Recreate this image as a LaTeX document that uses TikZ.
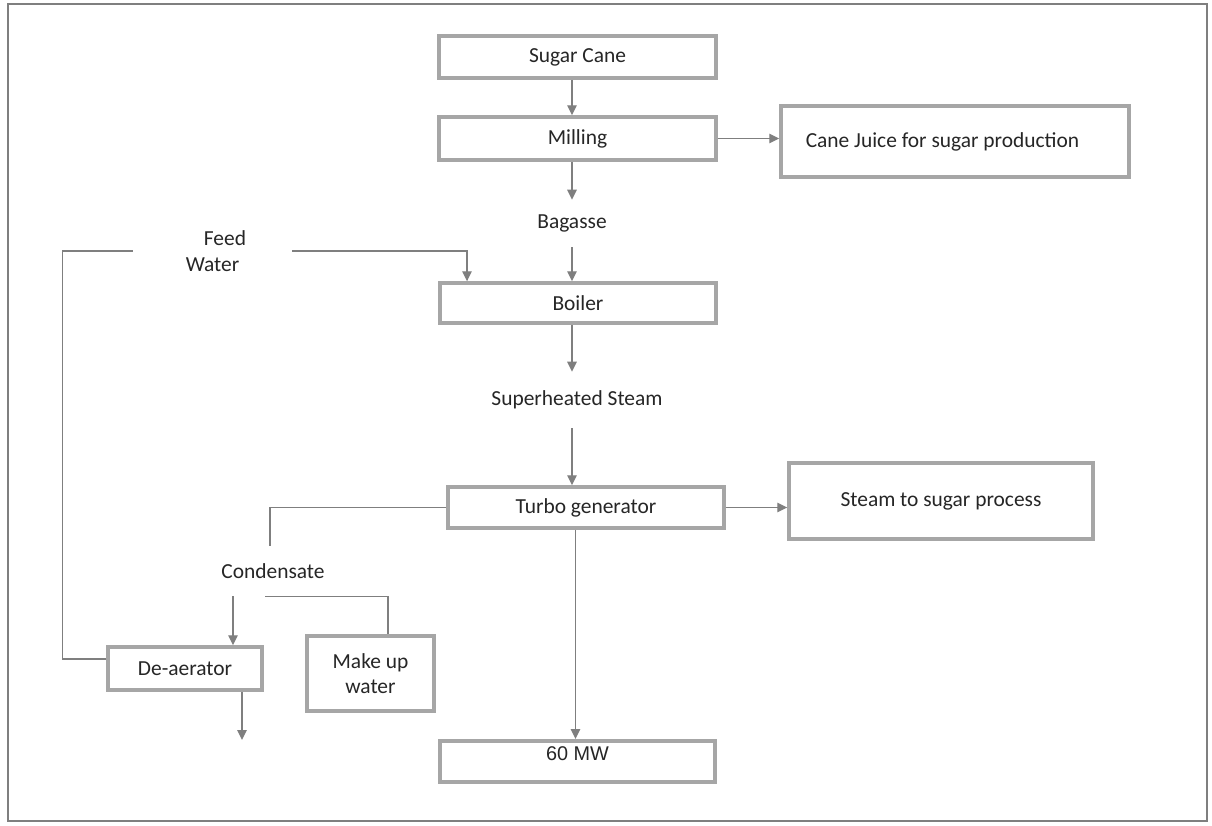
\documentclass[tikz,border=0pt]{standalone}
\usepackage{fontspec}
\setmainfont{Carlito}
\newfontfamily\arialf{Liberation Sans}
\usetikzlibrary{arrows.meta,positioning,calc}
\definecolor{boxgray}{HTML}{A6A6A6}
\definecolor{linegray}{HTML}{7F7F7F}
\definecolor{txt}{HTML}{262626}
\tikzset{
  pbox/.style={draw=boxgray,line width=2pt,fill=white,inner sep=0pt,align=center,text=txt,font=\fontsize{12.2}{14.6}\selectfont},
  lbl/.style={inner sep=0pt,text=txt,align=center,font=\fontsize{12.2}{14.6}\selectfont},
  conn/.style={draw=linegray,line width=0.75pt},
  arr/.style={conn,-{Triangle[length=2mm,width=1.9mm]}},
  frame/.style={draw=linegray,line width=1.1pt}
}
\begin{document}
\begin{tikzpicture}[x=0.02cm,y=-0.02cm]
\useasboundingbox (0,0) rectangle (1212,825);
\draw[frame] (8,4) rectangle (1207,821);

\node[pbox,minimum width=5.54cm,minimum height=0.84cm] (sugar) at (577.5,57) {Sugar Cane};
\node[pbox,minimum width=5.54cm,minimum height=0.86cm] (milling) at (577.5,138.5) {Milling};
\node[pbox,minimum width=6.96cm,minimum height=1.42cm] (juice) at (955,141.5) {\hspace*{-0.5cm}Cane Juice for sugar production};
\node[lbl,minimum height=0.94cm] (bag) at (572,223.5) {Bagasse};
\node[pbox,minimum width=5.52cm,minimum height=0.80cm] (boiler) at (578,303) {Boiler};
\node[lbl,minimum width=3.18cm,minimum height=1.0cm] (feed) at (212.5,251) {\hspace*{0.5cm}Feed\\Water};
\node[lbl,minimum height=1.12cm] (steam) at (577,400) {Superheated Steam};
\node[pbox,minimum width=5.52cm,minimum height=0.82cm] (turbo) at (586,507.5) {Turbo generator};
\node[pbox,minimum width=6.08cm,minimum height=1.52cm] (proc) at (941,501) {Steam to sugar process};
\node[lbl,minimum height=1.0cm] (cond) at (273,571) {Condensate};
\node[pbox,minimum width=3.08cm,minimum height=0.86cm] (deaer) at (185,668.5) {De-aerator};
\node[pbox,minimum width=2.54cm,minimum height=1.5cm] (makeup) at (370.5,673.5) {Make up\\water};
\node[pbox,minimum width=5.5cm,minimum height=0.82cm,font=\arialf\fontsize{11.3}{13}\selectfont,anchor=north] (mw) at (577.5,739) {\raisebox{0.3cm}{60 MW}};
\coordinate (deout) at (242,740);

\draw[arr] (sugar.south -| bag) -- (milling.north -| bag);
\draw[arr] (milling.south -| bag) -- (bag.north);
\draw[arr] (bag.south) -- (boiler.north -| bag);
\draw[arr] (milling.east) -- (milling.east -| juice.west);
\draw[arr] (boiler.south -| bag) -- (steam.north -| bag);
\draw[arr] (steam.south -| bag) -- (turbo.north -| bag);
\draw[arr] ([xshift=-0.04cm]turbo.south -| mw.north) -- ([xshift=-0.04cm]mw.north);
\draw[arr] (turbo.east) -- (turbo.east -| proc.west);
\draw[conn] ([yshift=0.19cm]deaer.west) -| ([xshift=-1.4cm]feed.west) -- (feed.west);
\draw[arr] (feed.east) -| ([xshift=-2.22cm]boiler.north);
\draw[conn] (turbo.west) -| ([xshift=-0.06cm]cond.north);
\draw[arr] ([xshift=-0.8cm]cond.south) -- ([xshift=-0.8cm]cond.south |- deaer.north);
\draw[conn] ([xshift=-0.16cm]cond.south) -| ([xshift=0.35cm]makeup.north);
\draw[arr] (deaer.south -| deout) -- (deout);
\end{tikzpicture}
\end{document}
